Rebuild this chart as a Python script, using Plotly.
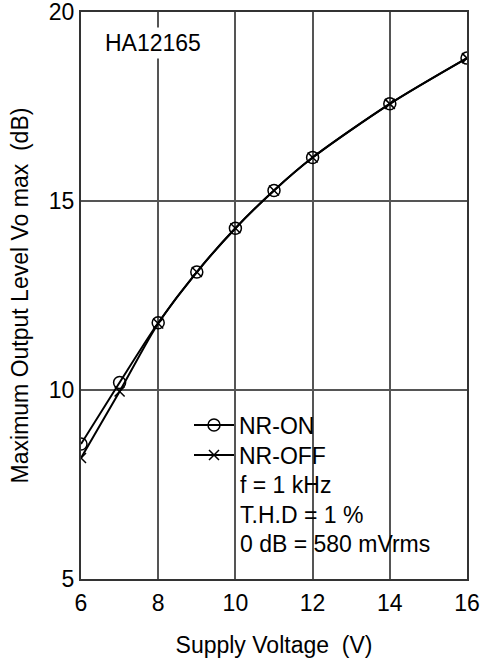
import plotly.graph_objects as go

voltage = [6, 7, 8, 9, 10, 11, 12, 14, 16]
nr_on = [8.57, 10.2, 11.78, 13.12, 14.28, 15.28, 16.15, 17.57, 18.78]
nr_off = [8.2, 9.96, 11.76, 13.12, 14.28, 15.28, 16.15, 17.57, 18.78]
x_ticks = [6, 8, 10, 12, 14, 16]
y_ticks = [5, 10, 15, 20]

FONT = "Liberation Sans, Arial, sans-serif"
FS = 23

W, H = 482, 661
L, R, T, B = 81, 15, 12, 82
pw, ph = W - L - R, H - T - B

def px(xp):
    return (xp - L) / pw

def py(yp):
    return (H - B - yp) / ph

fig = go.Figure()
fig.add_trace(go.Scatter(
    x=voltage, y=nr_on, name="NR-ON", mode="lines+markers", legend="legend",
    line=dict(color="black", width=2, shape="spline", smoothing=0.8),
    marker=dict(symbol="circle-open", size=12, color="black", line=dict(width=1.5, color="black")),
))
fig.add_trace(go.Scatter(
    x=voltage, y=nr_off, name="NR-OFF", mode="lines+markers", legend="legend2",
    line=dict(color="black", width=2, shape="spline", smoothing=0.8),
    marker=dict(symbol="x-thin-open", size=10, color="black", line=dict(width=1.5, color="black")),
))

# white box behind the legend text (covers grid lines)
fig.add_shape(type="rect", xref="paper", yref="paper",
              x0=px(190), x1=px(396), y0=py(557), y1=py(407),
              fillcolor="white", line=dict(width=0), layer="between")

notes = ["f = 1 kHz", "T.H.D = 1 %", "0 dB = 580 mVrms"]
note_y = [485, 515, 544]
for txt, yy in zip(notes, note_y):
    fig.add_annotation(text=txt, xref="paper", yref="paper", x=px(238), y=py(yy),
                       xanchor="left", yanchor="middle", showarrow=False,
                       font=dict(size=FS, color="black", family=FONT))

fig.add_annotation(text="HA12165", xref="paper", yref="paper", x=px(102), y=py(43),
                   xanchor="left", yanchor="middle", showarrow=False,
                   bgcolor="white", borderpad=2,
                   font=dict(size=FS, color="black", family=FONT))

legend_common = dict(xanchor="left", yanchor="middle",
                     bgcolor="rgba(0,0,0,0)", borderwidth=0,
                     font=dict(size=FS, color="black", family=FONT),
                     itemwidth=40)

fig.update_layout(
    width=W, height=H,
    margin=dict(l=L, r=R, t=T, b=B, autoexpand=False),
    paper_bgcolor="white", plot_bgcolor="white",
    font=dict(family=FONT, size=FS, color="black"),
    showlegend=True,
    legend=dict(x=px(189), y=py(425), **legend_common),
    legend2=dict(x=px(189), y=py(455), **legend_common),
    xaxis=dict(range=[6, 16], tickvals=x_ticks, ticktext=[str(v) for v in x_ticks],
               showgrid=True, gridcolor="#555555", gridwidth=1.5,
               showline=True, linecolor="#333333", linewidth=2, mirror=True,
               ticks="", zeroline=False, automargin=False, ticklabeloverflow="allow",
               ticklabelstandoff=2,
               title=dict(text="Supply Voltage  (V)", standoff=22,
                          font=dict(size=FS, family=FONT, color="black")),
               tickfont=dict(size=FS, family=FONT, color="black")),
    yaxis=dict(range=[5, 20], tickvals=y_ticks, ticktext=[str(v) for v in y_ticks],
               showgrid=True, gridcolor="#555555", gridwidth=1.5,
               showline=True, linecolor="#333333", linewidth=2, mirror=True,
               ticks="", zeroline=False, automargin=False, ticklabeloverflow="allow",
               title=dict(text="Maximum Output Level Vo max  (dB)", standoff=14,
                          font=dict(size=FS, family=FONT, color="black")),
               tickfont=dict(size=FS, family=FONT, color="black")),
)

fig.write_html("out.html", config={"displayModeBar": False},
               post_script="document.body.style.margin='0';")
